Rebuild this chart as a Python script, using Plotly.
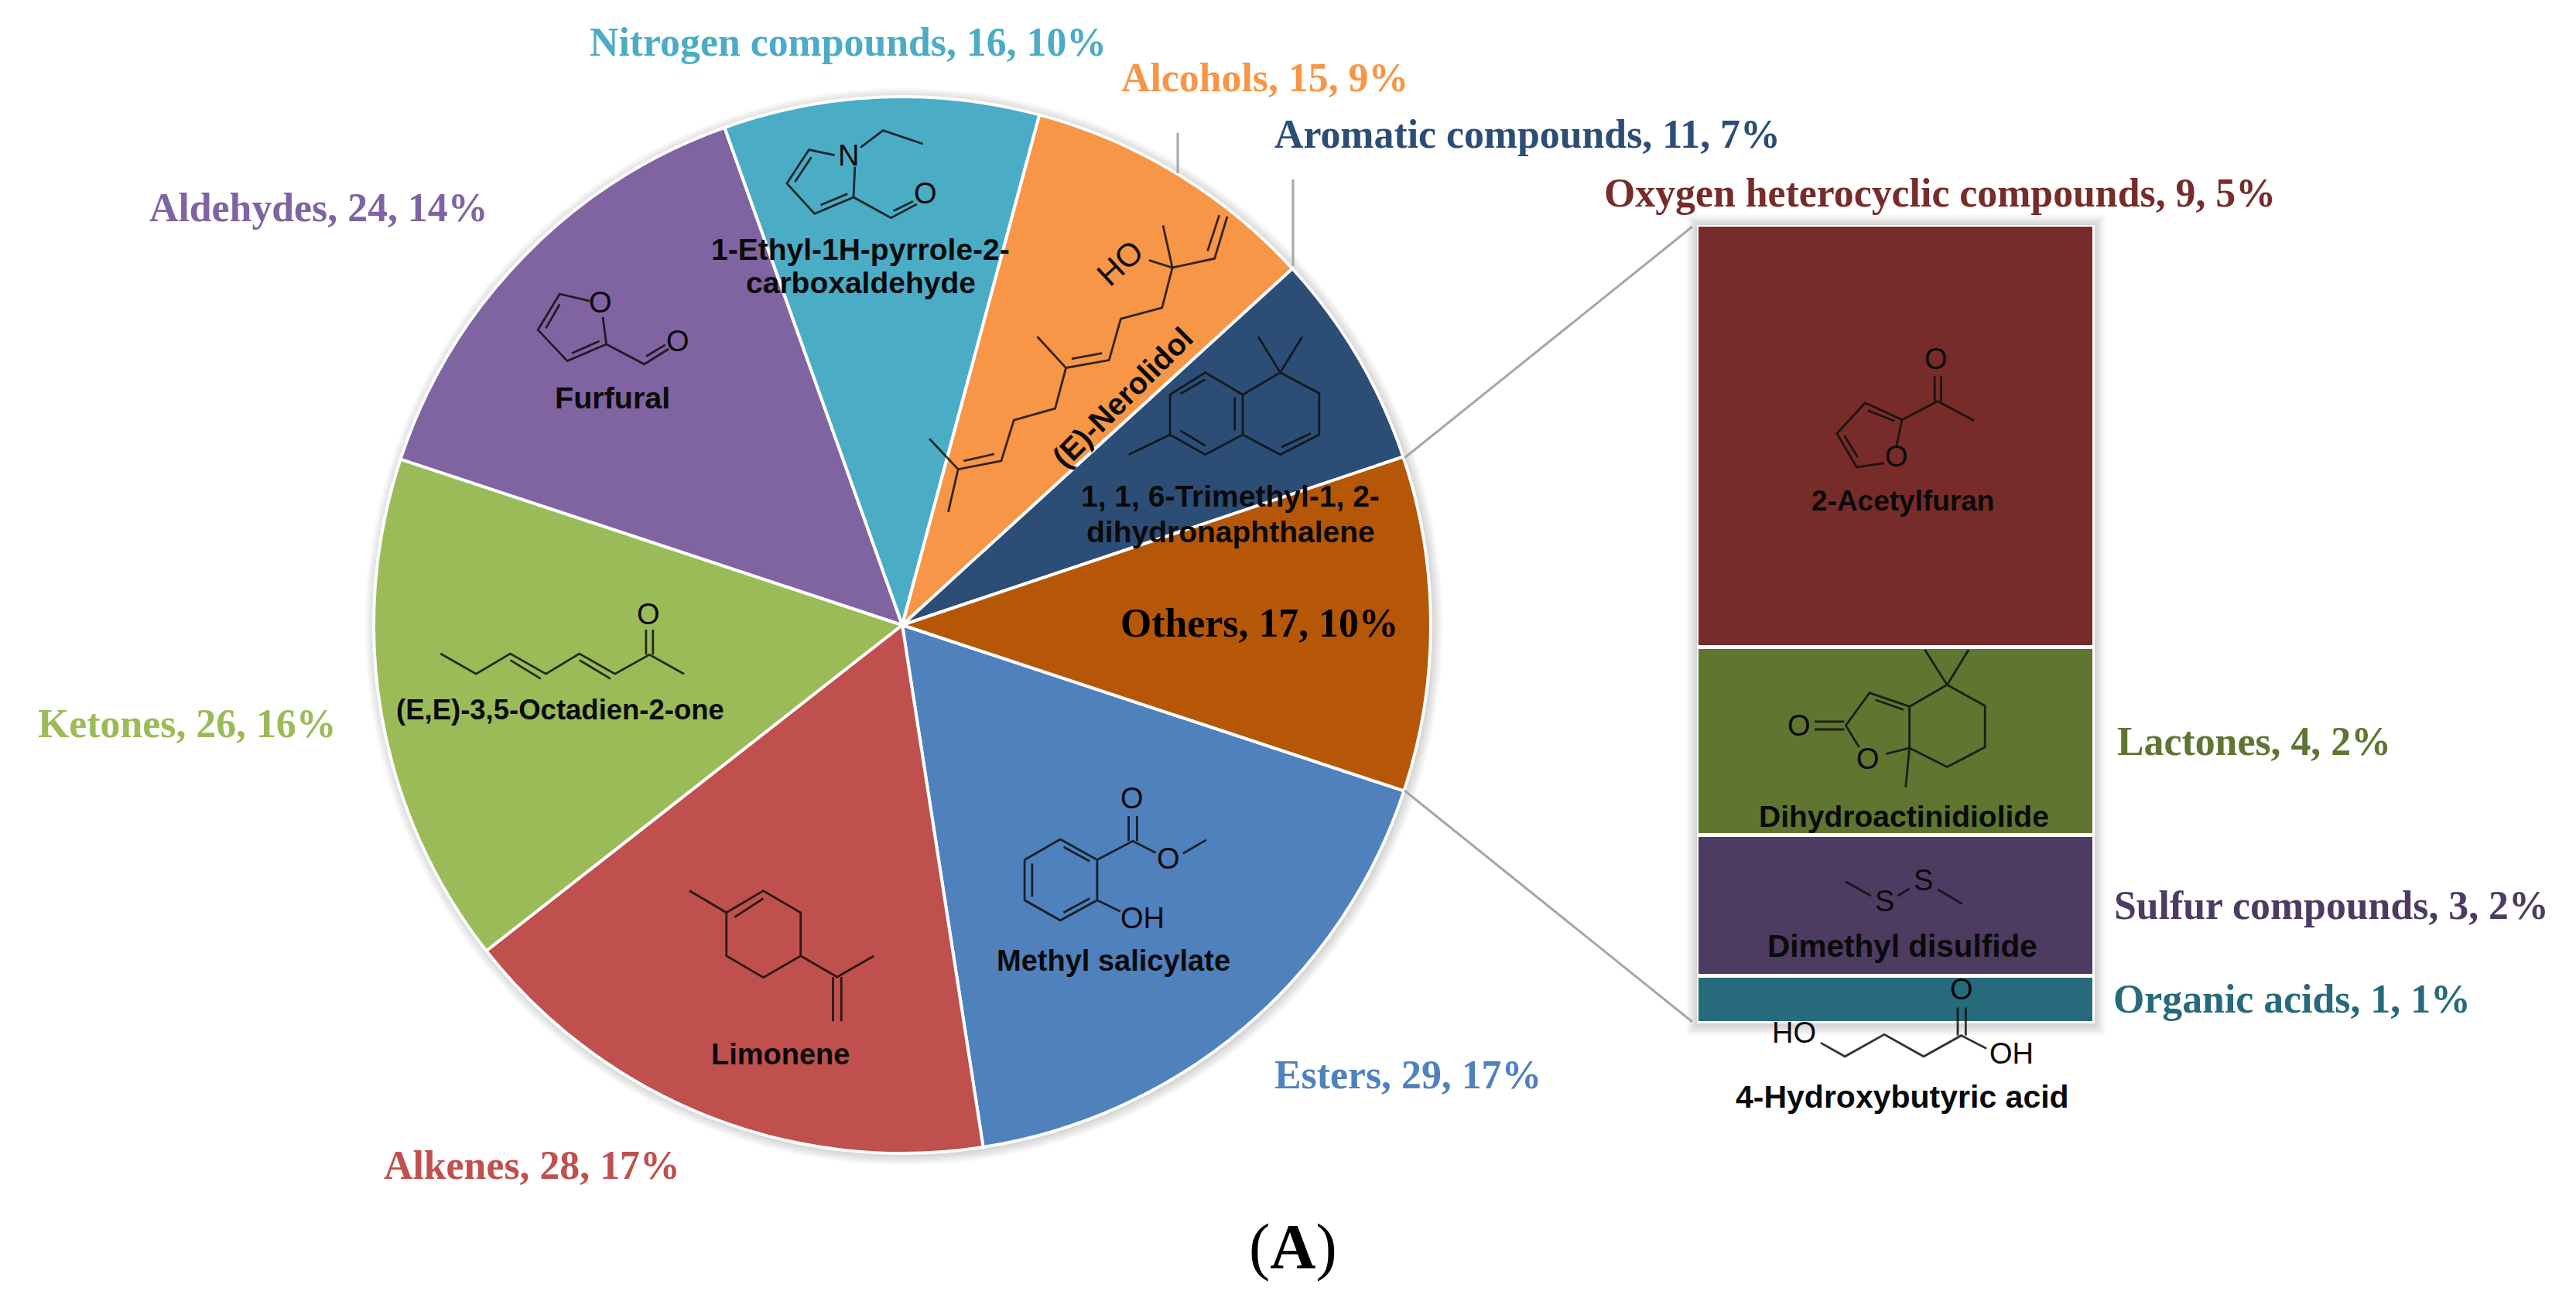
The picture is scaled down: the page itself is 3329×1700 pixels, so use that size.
import plotly.graph_objects as go

# ---------- data ----------
pie_names = ["Esters", "Alkenes", "Ketones", "Aldehydes", "Nitrogen compounds", "Alcohols", "Aromatic compounds", "Others"]
pie_counts = [29, 28, 26, 24, 16, 15, 11, 17]
pie_pcts = [17, 17, 16, 14, 10, 9, 7, 10]
pie_colors = ["#4F81BD", "#C0504D", "#9BBB59", "#8064A2", "#4BACC6", "#F79646", "#2C4D75", "#B65708"]

bar_names = ["Organic acids", "Sulfur compounds", "Lactones", "Oxygen heterocyclic compounds"]
bar_counts = [1, 3, 4, 9]
bar_pcts = [1, 2, 2, 5]
bar_colors = ["#276A7C", "#4D3B62", "#5F7530", "#772C2A"]

W, H = 3329, 1700
S = W / 1568.0
CX, CY, R = 1166, 808, 683
BX0, BX1, BY0, BY1 = 2193, 2707, 291, 1323


def px(x):
    return x / W


def py(y):
    return 1 - y / H


fig = go.Figure()
fig.add_trace(go.Pie(
    labels=pie_names, values=pie_counts, sort=False, direction="clockwise", rotation=108.3,
    marker=dict(colors=pie_colors, line=dict(color="#FFFFFF", width=4)),
    textinfo="none", hoverinfo="label+value", showlegend=False,
    domain=dict(x=[px(CX - R), px(CX + R)], y=[py(CY + R), py(CY - R)]),
))
for n, c, col in zip(bar_names, bar_counts, bar_colors):
    fig.add_trace(go.Bar(
        x=[0], y=[c], name=n, width=1, showlegend=False,
        marker=dict(color=col, line=dict(color="#FFFFFF", width=5)),
    ))

shapes = []
# soft glow behind pie and bar
for i in range(1, 15):
    shapes.append(dict(type="circle", xref="paper", yref="paper", layer="below",
                       x0=px(CX - R - i + 2), x1=px(CX + R + i + 2),
                       y0=py(CY + R + i + 2), y1=py(CY - R - i + 2),
                       fillcolor="rgba(0,0,0,0.010)", line=dict(width=0)))
    shapes.append(dict(type="rect", xref="paper", yref="paper", layer="below",
                       x0=px(BX0 - i), x1=px(BX1 + i), y0=py(BY1 + i + 2), y1=py(BY0 - i),
                       fillcolor="rgba(0,0,0,0.010)", line=dict(width=0)))

# leader lines (reference px)
for seg in [((1522, 172), (1522, 224)), ((1671, 232), (1671, 344)),
            ((1815, 592), (2187, 293)), ((1815, 1022), (2187, 1321))]:
    shapes.append(dict(type="line", xref="paper", yref="paper",
                       x0=px(seg[0][0]), y0=py(seg[0][1]), x1=px(seg[1][0]), y1=py(seg[1][1]),
                       line=dict(color="#A6A6A6", width=3)))


def frame(x0, kx, y0, ky):
    return lambda p: (x0 + p[0] * kx, y0 + p[1] * ky)


Z1 = frame(900, 0.606, 130, 0.357)
Z2 = frame(480, 0.4464, 300, 0.4145)
Z3 = frame(800, 0.542, 1000, 0.333)
Z4 = frame(2150, 0.3827, 280, 0.51)
Z5 = frame(2150, 0.3827, 1060, 0.339)

molecules = [
    # pyrrole
    (Z1, [[(295, 198), (240, 178), (193, 300), (252, 410), (335, 350), (338, 240)],
          [(245, 205), (210, 295)], [(265, 378), (322, 338)],
          [(350, 170), (398, 108), (483, 157)],
          [(335, 350), (415, 425), (470, 375)], [(420, 400), (462, 365)]]),
    # nerolidol
    (Z1, [[(1132, 420), (1105, 572), (1015, 605), (965, 578)], [(1115, 415), (1090, 545)],
          [(1015, 605), (995, 452)],
          [(1015, 605), (993, 750), (905, 790), (880, 940), (788, 968), (765, 1115), (677, 1157),
           (650, 1305), (558, 1335), (537, 1490)],
          [(865, 915), (800, 935)], [(788, 968), (727, 855)],
          [(635, 1280), (570, 1305)], [(558, 1335), (497, 1225)]]),
    # dihydronaphthalene
    (Z1, [[(1165, 1065), (1085, 985), (1010, 1065), (1010, 1210), (1085, 1282), (1165, 1210), (1165, 1065),
           (1245, 985), (1328, 1060), (1328, 1210), (1245, 1282), (1165, 1210)],
          [(1085, 1010), (1032, 1062)], [(1032, 1195), (1085, 1250)], [(1148, 1075), (1148, 1195)],
          [(1310, 1205), (1248, 1255)],
          [(1198, 855), (1245, 985), (1292, 855)], [(1010, 1210), (922, 1282)]]),
    # furfural
    (Z2, [[(632, 215), (545, 193), (482, 305), (567, 402), (680, 350), (670, 265)],
          [(545, 225), (505, 300)], [(580, 378), (660, 340)],
          [(680, 350), (790, 412), (860, 365)], [(795, 388), (850, 352)]]),
    # octadienone
    (Z2, [[(200, 1315), (303, 1378), (402, 1315), (505, 1378), (602, 1315), (705, 1378), (805, 1318), (905, 1378)],
          [(402, 1335), (490, 1393)], [(602, 1335), (692, 1393)],
          [(795, 1318), (795, 1240)], [(815, 1318), (815, 1240)]]),
    # limonene
    (Z3, [[(168, 455), (256, 540), (344, 455), (433, 540), (433, 708), (344, 792), (256, 708), (256, 540)],
          [(275, 558), (344, 485)], [(433, 708), (520, 790), (608, 708)],
          [(510, 790), (510, 962)], [(530, 790), (530, 962)]]),
    # methyl salicylate
    (Z3, [[(1052, 255), (1140, 335), (1140, 492), (1052, 570), (967, 492), (967, 335), (1052, 255)],
          [(1060, 285), (1122, 340)], [(985, 350), (985, 478)], [(1060, 540), (1122, 485)],
          [(1140, 335), (1225, 262), (1280, 308)], [(1215, 262), (1215, 165)], [(1235, 262), (1235, 165)],
          [(1345, 310), (1400, 258)], [(1140, 492), (1195, 535)]]),
    # 2-acetylfuran
    (Z4, [[(745, 625), (652, 635), (585, 550), (680, 472), (805, 515), (785, 585)],
          [(655, 610), (610, 555)], [(690, 492), (780, 518)],
          [(805, 515), (925, 468), (1048, 517)], [(915, 468), (915, 405)], [(937, 468), (937, 405)]]),
    # dihydroactinidiolide
    (Z4, [[(510, 1280), (610, 1280)], [(510, 1300), (610, 1300)],
          [(660, 1345), (615, 1290), (695, 1207), (830, 1242), (957, 1187), (1085, 1240), (1085, 1345),
           (957, 1395), (830, 1347), (830, 1242)],
          [(750, 1362), (830, 1347), (817, 1447)], [(715, 1225), (810, 1250)],
          [(882, 1098), (957, 1187), (1030, 1098)]]),
    # dimethyl disulfide
    (Z5, [[(615, 235), (700, 290)], [(790, 290), (830, 262)], [(925, 265), (1008, 320)]]),
    # 4-hydroxybutyric acid
    (Z5, [[(530, 850), (612, 902), (745, 818), (878, 902), (1005, 822), (1090, 872)],
          [(993, 822), (993, 715)], [(1020, 822), (1020, 715)]]),
]
for fr, lines in molecules:
    d = ""
    for ln in lines:
        pts = [fr(p) for p in ln]
        d += "M" + " L".join(f"{px(a):.5f},{py(b):.5f}" for a, b in pts) + " "
    shapes.append(dict(type="path", path=d.strip(), xref="paper", yref="paper",
                       line=dict(color="rgba(15,15,15,0.85)", width=2.8)))

ann = []


def text(t, x, y, size, color="#000000", family="Liberation Sans", bold=True, angle=0):
    s = f"<b>{t}</b>" if bold else t
    ann.append(dict(text=s, x=px(x), y=py(y), xref="paper", yref="paper", xanchor="center", yanchor="middle",
                    showarrow=False, textangle=angle, font=dict(family=family, size=size, color=color)))


# class labels, positions given in the 1568-wide frame
pie_label_pos = [(857, 654.5), (324, 709.5), (114, 440.5), (194, 126.5), (516, 25.5), (770, 47.5), (930, 81.5), (767, 379.5)]
for n, c, p, col, pos in zip(pie_names, pie_counts, pie_pcts, pie_colors, pie_label_pos):
    text(f"{n}, {c}, {p}%", pos[0] * S, pos[1] * S, 51.8, "#000000" if n == "Others" else col, "Liberation Serif")
bar_label_pos = [(1395, 608.5), (1419, 551.5), (1372, 451.5), (1181, 117.5)]
for n, c, p, col, pos in zip(bar_names, bar_counts, bar_pcts, bar_colors, bar_label_pos):
    text(f"{n}, {c}, {p}%", pos[0] * S, pos[1] * S, 51.8, col, "Liberation Serif")
text("(<b>A</b>)", 787 * S, 759 * S, 82, "#000000", "Liberation Serif", bold=False)

# compound names
names = [("Furfural", 373, 242, 39.5), ("1-Ethyl-1H-pyrrole-2-", 524, 152, 39), ("carboxaldehyde", 524, 172, 39),
         ("1, 1, 6-Trimethyl-1, 2-", 749, 302, 39), ("dihydronaphthalene", 749, 324, 39),
         ("(E,E)-3,5-Octadien-2-one", 341, 432, 36.5), ("Limonene", 475, 642, 38), ("Methyl salicylate", 678, 585, 38),
         ("2-Acetylfuran", 1158, 305, 37), ("Dihydroactinidiolide", 1159, 497, 39), ("Dimethyl disulfide", 1158, 576, 40.5),
         ("4-Hydroxybutyric acid", 1158, 668, 41)]
for t, x, y, s in names:
    text(t, x * S, y * S, s, "#0a0a0a")
text("(E)-Nerolidol", 683 * S, 242 * S, 39.5, "#0a0a0a", angle=-45)
text("HO", 682 * S, 160 * S, 42, "#0a0a0a", bold=False, angle=-43)

# atom labels
atoms = [(Z1, "N", 325, 200), (Z1, "O", 488, 335), (Z2, "O", 662, 220), (Z2, "O", 888, 340), (Z2, "O", 802, 1192),
         (Z3, "O", 1223, 97), (Z3, "O", 1310, 330), (Z3, "OH", 1248, 563), (Z4, "O", 920, 360), (Z4, "O", 787, 608),
         (Z4, "O", 458, 1290), (Z4, "O", 690, 1375), (Z5, "S", 745, 310), (Z5, "S", 877, 230),
         (Z5, "HO", 440, 812), (Z5, "OH", 1175, 892), (Z5, "O", 1005, 645)]
for fr, t, x, y in atoms:
    a, b = fr((x, y))
    text(t, a, b, 38, "#0a0a0a", bold=False)

fig.update_layout(
    width=W, height=H, autosize=False, margin=dict(l=0, r=0, t=0, b=0),
    paper_bgcolor="#FFFFFF", plot_bgcolor="rgba(0,0,0,0)", barmode="stack", bargap=0,
    xaxis=dict(domain=[px(BX0), px(BX1)], range=[-0.5, 0.5], visible=False, fixedrange=True),
    yaxis=dict(domain=[py(BY1), py(BY0)], range=[0, 17], visible=False, fixedrange=True),
    shapes=shapes, annotations=ann,
)
fig.write_html("out.html", config=dict(displayModeBar=False),
               post_script="document.body.style.margin='0';document.body.style.overflow='hidden';")
